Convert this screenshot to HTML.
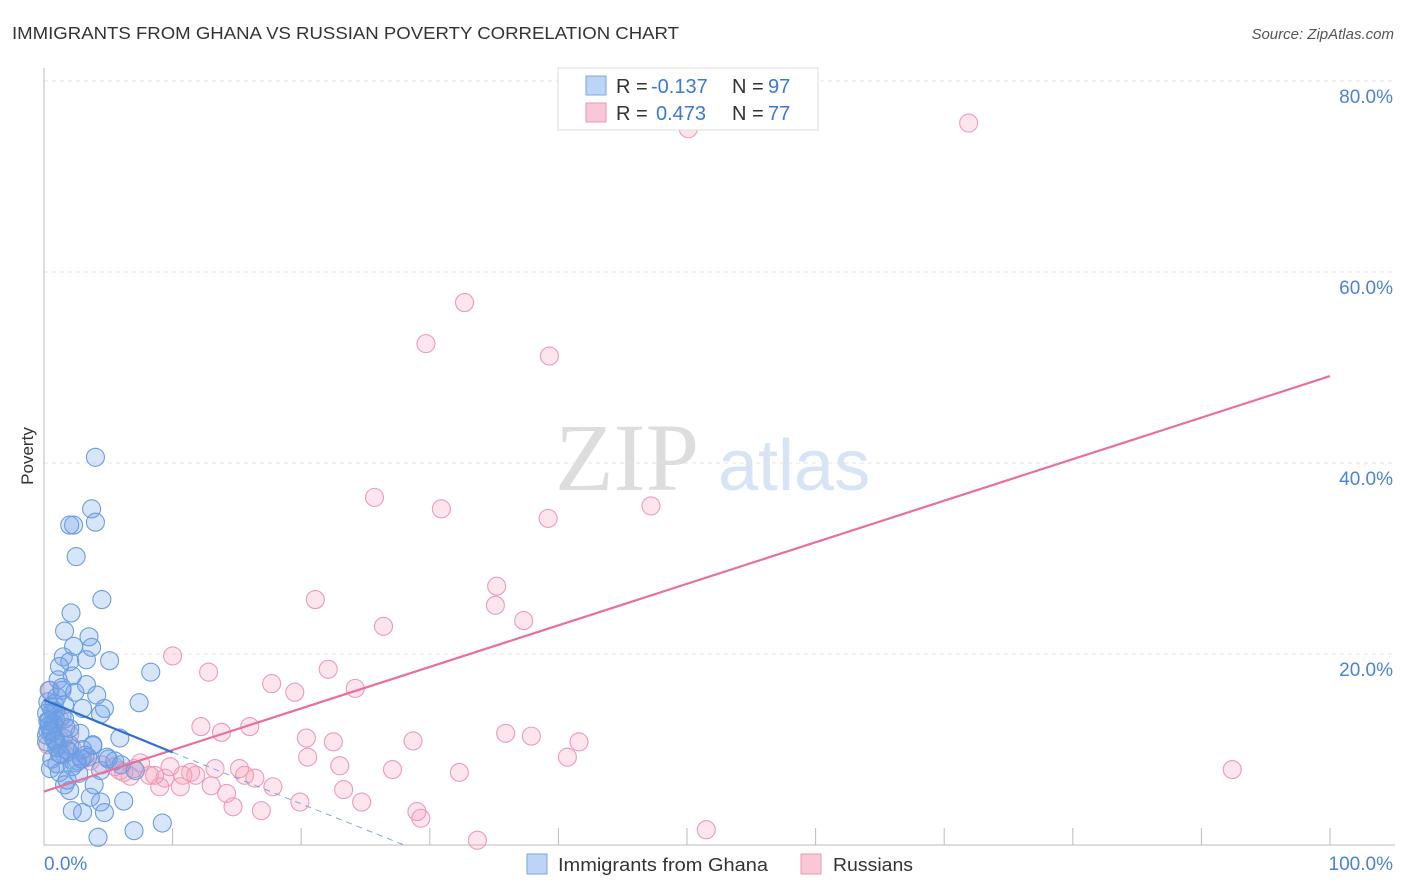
<!DOCTYPE html>
<html><head><meta charset="utf-8"><style>
body{margin:0;background:#fff;font-family:"Liberation Sans",sans-serif}
svg{display:block}
</style></head><body>
<svg id="chart" width="1406" height="892" xmlns="http://www.w3.org/2000/svg">
<text x="12" y="39" font-size="17.5" fill="#333" textLength="667" lengthAdjust="spacingAndGlyphs">IMMIGRANTS FROM GHANA VS RUSSIAN POVERTY CORRELATION CHART</text>
<text x="1394" y="39" font-size="15" fill="#555" font-style="italic" text-anchor="end">Source: ZipAtlas.com</text>
<text x="555" y="490" font-size="96" fill="#ddd" font-family="Liberation Serif,serif">ZIP</text>
<text x="718" y="490" font-size="72" fill="#d6e4f5">atlas</text>
<text transform="translate(33,456) rotate(-90)" font-size="17" fill="#333" text-anchor="middle">Poverty</text>
<g id="grid"></g><g id="marks"></g>
<g>
<rect x="558" y="68" width="260" height="62" fill="#fff" stroke="#ddd"/>
<rect x="586" y="76" width="20" height="19" fill="#bcd4f5" stroke="#7aa6e6"/>
<rect x="586" y="103" width="20" height="19" fill="#f9c8d6" stroke="#ee9ab4"/>
<text x="616" y="93" font-size="20" fill="#333">R =</text>
<text x="651" y="93" font-size="20" fill="#3b78d8">-0.137</text>
<text x="732" y="93" font-size="20" fill="#333">N =</text>
<text x="768" y="93" font-size="20" fill="#3b78d8">97</text>
<text x="616" y="120" font-size="20" fill="#333">R =</text>
<text x="656" y="120" font-size="20" fill="#3b78d8">0.473</text>
<text x="732" y="120" font-size="20" fill="#333">N =</text>
<text x="768" y="120" font-size="20" fill="#3b78d8">77</text>
</g>
<g>
<rect x="527" y="854" width="20" height="20" fill="#bcd4f5" stroke="#7aa6e6"/>
<text x="558" y="871" font-size="18.5" fill="#333" textLength="210" lengthAdjust="spacingAndGlyphs">Immigrants from Ghana</text>
<rect x="801" y="854" width="20" height="20" fill="#f9c8d6" stroke="#ee9ab4"/>
<text x="833" y="871" font-size="18.5" fill="#333" textLength="80" lengthAdjust="spacingAndGlyphs">Russians</text>
</g>
</svg>
<script>
const yTicks=[20,40,60,80];
const yTickLabels=["20.0%","40.0%","60.0%","80.0%"];
const xTicks=[0,10,20,30,40,50,60,70,80,90,100];
const blueX=[4.0,3.7,2.0,2.3,4.0,2.5,4.5,2.1,1.6,3.5,2.3,3.7,1.5,5.1,8.3,2.0,3.3,1.2,2.2,1.1,3.3,4.1,1.4,2.4,0.4,7.4,1.6,0.5,3.0,4.7,4.4,0.9,5.9,0.3,1.7,2.8,0.9,2.0,3.8,4.9,1.2,3.4,2.2,4.4,7.1,1.6,3.9,6.2,2.0,3.6,4.4,2.2,4.7,3.0,4.2,7.0,9.2,0.3,0.5,0.8,1.1,1.4,0.2,0.6,1.0,1.8,0.4,0.9,1.3,0.2,0.7,1.5,2.6,0.3,1.0,1.9,0.5,1.2,2.9,0.8,1.6,3.2,2.5,0.6,5.5,6.0,1.0,2.0,1.4,0.7,0.2,3.0,5.0,1.8,2.7,0.4,3.8];
const blueY=[40.6,35.2,33.5,33.5,33.8,30.2,25.7,24.3,22.4,21.8,20.8,20.7,19.7,19.3,18.1,19.2,19.4,18.7,17.7,17.3,16.8,15.7,16.2,16.0,16.2,14.9,14.7,14.5,14.3,14.3,13.7,13.1,11.2,12.0,12.3,11.7,11.0,10.5,10.4,9.2,9.6,9.2,8.2,7.8,7.8,6.3,6.3,4.6,5.7,5.0,4.5,3.6,3.4,3.4,0.8,1.5,2.3,13.0,12.0,11.0,10.5,13.5,11.5,9.0,8.5,10.0,12.5,14.0,9.5,10.8,12.8,11.2,8.8,15.0,10.2,9.8,8.0,7.6,9.0,14.8,13.2,9.4,8.6,11.8,8.8,8.4,15.5,12.2,16.5,14.0,13.8,10.0,9.0,6.8,7.5,13.0,10.5];
const pinkX=[50.1,71.9,32.7,29.7,39.3,25.7,30.9,39.2,47.2,35.2,35.1,21.1,26.4,37.3,10.0,12.8,22.1,17.7,19.5,24.2,12.2,16.0,13.8,20.4,22.5,28.7,35.9,37.9,41.6,20.5,23.0,40.7,27.1,32.3,92.4,15.2,16.4,17.8,13.0,14.2,14.7,16.9,19.9,23.3,24.7,29.0,29.3,33.7,51.5,0.5,1.2,2.0,2.2,3.6,5.9,7.5,8.2,9.4,10.6,11.4,11.8,5.5,6.7,9.0,8.6,10.8,1.2,1.6,0.8,0.3,13.3,15.6,3.0,4.5,6.2,7.0,9.8];
const pinkY=[75.0,75.6,56.8,52.5,51.2,36.4,35.2,34.2,35.5,27.1,25.1,25.7,22.9,23.5,19.8,18.1,18.4,16.9,16.0,16.4,12.4,12.4,11.8,11.2,10.8,10.9,11.7,11.4,10.8,9.2,8.3,9.2,7.9,7.6,7.9,8.0,7.0,6.1,6.2,5.4,4.0,3.6,4.5,5.8,4.5,3.5,2.8,0.5,1.6,16.2,13.2,11.6,10.1,8.8,7.8,8.6,7.3,7.0,6.1,7.6,7.3,8.2,7.2,6.1,7.3,7.3,11.1,9.5,12.6,10.5,8.0,7.3,9.0,8.4,7.6,8.0,8.2];
const blueTrend=[[0,15.2],[10,9.7]];
const blueDash=[[10,9.7],[28,0]];
const pinkTrend=[[0,5.6],[100,49.1]];
const NS="http://www.w3.org/2000/svg";
const X0=44,X1=1330,Y0=845,YS=9.55;
function sx(v){return X0+(X1-X0)*v/100;}
function sy(v){return Y0-v*YS;}
function mk(t,a,p){const e=document.createElementNS(NS,t);for(const k in a)e.setAttribute(k,a[k]);p.appendChild(e);return e;}
const grid=document.getElementById('grid'),marks=document.getElementById('marks');
yTicks.forEach((t,i)=>{
 const l=mk('line',{x1:X0,x2:1395,y1:sy(t),y2:sy(t),stroke:'#e4e4e4','stroke-dasharray':'4,4'},grid);
 
 
 const tx=mk('text',{x:1393,y:sy(t)+22,'font-size':19,fill:'#4a82dc','text-anchor':'end'},grid);
 tx.textContent=yTickLabels[i];
 
 
});
const ax=mk('path',{d:`M${X0},68V${Y0}H1395`,stroke:'#bbb',fill:'none'},grid);


xTicks.forEach(t=>{
 const l=mk('line',{x1:sx(t),x2:sx(t),y1:828,y2:Y0,stroke:'#bbb'},grid);
 
 
});
[["0.0%",44,'start'],["100.0%",1393,'end']].forEach(a=>{
 const tx=mk('text',{x:a[1],y:870,'font-size':19,fill:'#4a82dc','text-anchor':a[2]},grid);
 tx.textContent=a[0];
 
 
});
pinkX.forEach((v,i)=>{
 const c=mk('circle',{cx:sx(v),cy:sy(pinkY[i]),r:9,fill:'rgba(244,160,188,0.28)',stroke:'#ee9ab6','stroke-width':1.1},marks);
 
 
});
blueX.forEach((v,i)=>{
 const c=mk('circle',{cx:sx(v),cy:sy(blueY[i]),r:9,fill:'rgba(110,160,235,0.28)',stroke:'#6b9de0','stroke-width':1.1},marks);
 
 
});
function ln(p,st,w,dash,name){
 const l=mk('line',{x1:sx(p[0][0]),y1:sy(p[0][1]),x2:sx(p[1][0]),y2:sy(p[1][1]),stroke:st,'stroke-width':w},marks);
 if(dash)l.setAttribute('stroke-dasharray',dash);
 
 
}
ln(pinkTrend,'#e8709a',2.2,null,'russians-trend-line');
ln(blueTrend,'#2f6fd1',2.2,null,'ghana-trend-line');
ln(blueDash,'#7fa6e0',1,'6,5','ghana-trend-extension');
</script>
</body></html>
